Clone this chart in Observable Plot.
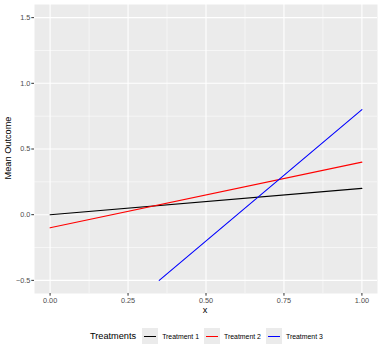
<!DOCTYPE html>
<html>
<head>
<meta charset="utf-8">
<script src="https://cdn.jsdelivr.net/npm/d3@7"></script>
<script src="https://cdn.jsdelivr.net/npm/@observablehq/plot@0.6"></script>
<style>
  html, body { margin: 0; padding: 0; background: #fff; }
  body { width: 382px; height: 352px; overflow: hidden; font-family: "Liberation Sans", Arial, sans-serif; }
  #legend { display: flex; align-items: center; justify-content: flex-start; height: 22px; margin-top: 7px; padding-left: 90px; }
  #legend .title { font-size: 9.2px; color: #000; margin-right: 6px; }
  #legend .key { width: 16px; height: 16px; background: #EBEBEB; position: relative; margin-right: 4px; }
  #legend .key span { position: absolute; left: 2px; right: 2px; top: 7.5px; height: 1.1px; }
  #legend .lab { font-size: 6.9px; color: #000; margin-right: 5px; }
</style>
</head>
<body>
<div id="chart"></div>
<div id="legend"></div>
<script>
const treatments = ["Treatment 1", "Treatment 2", "Treatment 3"];
const colors = ["#000000", "#FF0000", "#0000FF"];
const t1x = [0, 1];
const t1y = [0.0, 0.2];
const t2x = [0, 1];
const t2y = [-0.1, 0.4];
const t3x = [0.35, 1];
const t3y = [-0.5, 0.8];
const xTicks = [0, 0.25, 0.5, 0.75, 1];
const xTickLabels = ["0.00", "0.25", "0.50", "0.75", "1.00"];
const yTicks = [-0.5, 0, 0.5, 1, 1.5];
const yTickLabels = ["\u22120.5", "0.0", "0.5", "1.0", "1.5"];
const xMinor = [0.125, 0.375, 0.625, 0.875];
const yMinor = [-0.25, 0.25, 0.75, 1.25];

const rows = [];
[[t1x, t1y], [t2x, t2y], [t3x, t3y]].forEach(([xs, ys], i) => {
  xs.forEach((x, j) => rows.push({x, y: ys[j], t: treatments[i]}));
});

const chart = Plot.plot({
  width: 382,
  height: 318,
  marginLeft: 34,
  marginRight: 5,
  marginTop: 4,
  marginBottom: 25,
  style: {fontFamily: "Liberation Sans, Arial, sans-serif", background: "#fff", color: "#4D4D4D"},
  x: {domain: [-0.05, 1.05], label: null},
  y: {domain: [-0.6, 1.6], label: null},
  color: {domain: treatments, range: colors},
  marks: [
    Plot.frame({fill: "#EBEBEB", stroke: null}),
    Plot.ruleX(xMinor, {stroke: "#fff", strokeWidth: 0.55}),
    Plot.ruleY(yMinor, {stroke: "#fff", strokeWidth: 0.55}),
    Plot.ruleX(xTicks, {stroke: "#fff", strokeWidth: 1.1}),
    Plot.ruleY(yTicks, {stroke: "#fff", strokeWidth: 1.1}),
    Plot.axisX({ticks: xTicks, tickFormat: d => xTickLabels[xTicks.indexOf(d)], tickSize: 2.7, tickPadding: 1.5, stroke: "#333", fill: "#4D4D4D", fontSize: 7.3, label: null}),
    Plot.axisY({ticks: yTicks, tickFormat: d => yTickLabels[yTicks.indexOf(d)], tickSize: 2.7, tickPadding: 1.5, stroke: "#333", fill: "#4D4D4D", fontSize: 7.3, label: null}),
    Plot.line(rows, {x: "x", y: "y", z: "t", stroke: "t", strokeWidth: 1.1})
  ]
});
document.getElementById("chart").appendChild(chart);

// axis titles
const svg = d3.select(chart);
svg.append("text").attr("x", 205).attr("y", 313).attr("text-anchor", "middle")
  .attr("font-size", 9.2).attr("fill", "#000").text("x");
svg.append("text").attr("transform", "translate(11,148) rotate(-90)").attr("text-anchor", "middle")
  .attr("font-size", 9.2).attr("fill", "#000").text("Mean Outcome");

const lg = document.getElementById("legend");
const tt = document.createElement("span"); tt.className = "title"; tt.textContent = "Treatments"; lg.appendChild(tt);
treatments.forEach((t, i) => {
  const k = document.createElement("div"); k.className = "key";
  const s = document.createElement("span"); s.style.background = colors[i]; k.appendChild(s);
  lg.appendChild(k);
  const l = document.createElement("span"); l.className = "lab"; l.textContent = t; lg.appendChild(l);
});
</script>
</body>
</html>
